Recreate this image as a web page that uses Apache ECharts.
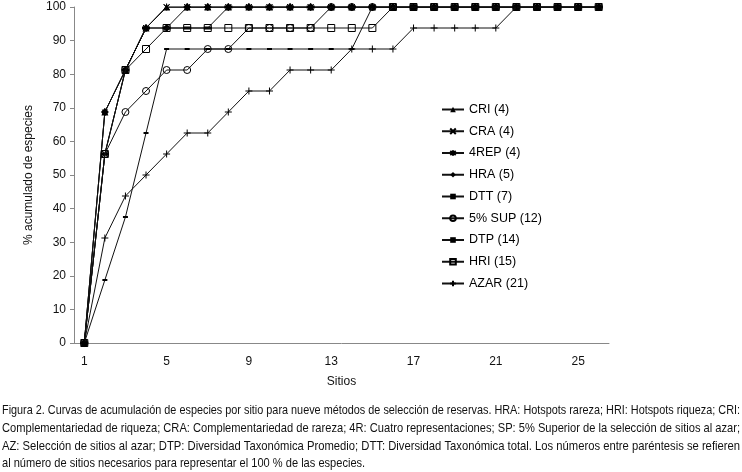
<!DOCTYPE html>
<html>
<head>
<meta charset="utf-8">
<script src="https://cdn.jsdelivr.net/npm/echarts@6/dist/echarts.min.js"></script>
<style>
html,body{margin:0;padding:0;background:#fff;}
#c{width:742px;height:472px;}
</style>
</head>
<body>
<div id="c"></div>
<script>
// ---- data ----
const sitios = ['1','2','3','4','5','6','7','8','9','10','11','12','13','14','15','16','17','18','19','20','21','22','23','24','25','26'];
const seriesNames = ['CRI (4)','CRA (4)','4REP (4)','HRA (5)','DTT (7)','5% SUP (12)','DTP (14)','HRI (15)','AZAR (21)'];
const CRI  = [0,68.75,81.25,93.75,100,100,100,100,100,100,100,100,100,100,100,100,100,100,100,100,100,100,100,100,100,100];
const CRA  = [0,56.25,81.25,93.75,100,100,100,100,100,100,100,100,100,100,100,100,100,100,100,100,100,100,100,100,100,100];
const REP4 = [0,68.75,81.25,93.75,100,100,100,100,100,100,100,100,100,100,100,100,100,100,100,100,100,100,100,100,100,100];
const HRA  = [0,68.75,81.25,93.75,93.75,100,100,100,100,100,100,100,100,100,100,100,100,100,100,100,100,100,100,100,100,100];
const DTT  = [0,56.25,81.25,93.75,93.75,93.75,93.75,100,100,100,100,100,100,100,100,100,100,100,100,100,100,100,100,100,100,100];
const SUP5 = [0,56.25,68.75,75,81.25,81.25,87.5,87.5,93.75,93.75,93.75,93.75,100,100,100,100,100,100,100,100,100,100,100,100,100,100];
const DTP  = [0,18.75,37.5,62.5,87.5,87.5,87.5,87.5,87.5,87.5,87.5,87.5,87.5,87.5,100,100,100,100,100,100,100,100,100,100,100,100];
const HRI  = [0,56.25,81.25,87.5,93.75,93.75,93.75,93.75,93.75,93.75,93.75,93.75,93.75,93.75,93.75,100,100,100,100,100,100,100,100,100,100,100];
const AZAR = [0,31.25,43.75,50,56.25,62.5,62.5,68.75,75,75,81.25,81.25,81.25,87.5,87.5,87.5,93.75,93.75,93.75,93.75,93.75,100,100,100,100,100];
const yTicks = [0,10,20,30,40,50,60,70,80,90,100];
const xTitle = 'Sitios';
const yTitle = '% acumulado de especies';
const captionLines = [
 'Figura 2. Curvas de acumulación de especies por sitio para nueve métodos de selección de reservas. HRA: Hotspots rareza; HRI: Hotspots riqueza; CRI:',
 'Complementariedad de riqueza; CRA: Complementariedad de rareza; 4R: Cuatro representaciones; SP: 5% Superior de la selección de sitios al azar;',
 'AZ: Selección de sitios al azar; DTP: Diversidad Taxonómica Promedio; DTT: Diversidad Taxonómica total. Los números entre paréntesis se refieren',
 'al número de sitios necesarios para representar el 100 % de las especies.'
];

// ---- styles ----
const F = '"Liberation Sans", Arial, sans-serif';
const CF = '"Liberation Sans Narrow", "Arial Narrow", "Liberation Sans", sans-serif';
const S = {
  cross: 'path://M0,0L10,10M10,0L0,10',
  star: 'path://M0,1L10,9M10,1L0,9M5,-1L5,11',
  plus: 'path://M5,0L5,10M0,5L10,5',
  dashBig: 'path://M0,0L8,0L8,3L0,3Z',
  dashSmall: 'path://M0,0L5,0L5,2L0,2Z'
};
const styles = [
  {symbol:'triangle', size:7, fill:'#000'},
  {symbol:S.cross, size:6, fill:'none'},
  {symbol:S.star, size:7, fill:'none'},
  {symbol:'diamond', size:8, fill:'#000'},
  {symbol:S.dashBig, size:8, fill:'#000'},
  {symbol:'circle', size:7, fill:'rgba(0,0,0,0)'},
  {symbol:S.dashSmall, size:5, fill:'#000'},
  {symbol:'rect', size:7, fill:'rgba(0,0,0,0)'},
  {symbol:S.plus, size:7, fill:'none'}
];
const dataSets = [CRI,CRA,REP4,HRA,DTT,SUP5,DTP,HRI,AZAR];

const series = dataSets.map((d,i)=>({
  name: seriesNames[i],
  type: 'line',
  data: d,
  symbol: styles[i].symbol,
  symbolSize: styles[i].size,
  symbolKeepAspect: true,
  showAllSymbol: true,
  z: 2 + i,
  lineStyle: {color:'#111', width:1},
  itemStyle: {color: styles[i].fill === 'none' ? 'rgba(0,0,0,0)' : styles[i].fill, borderColor:'#000', borderWidth: styles[i].fill==='#000'?0:1},
  emphasis: {disabled:true},
  animation: false
}));

// caption justified via horizontal scale
const ctx = document.createElement('canvas').getContext('2d');
const capSize = 13;
ctx.font = capSize + 'px ' + CF;
const capW = 738;
const ws = captionLines.map(t=>ctx.measureText(t).width);
const scales = ws.slice(0,3).map(w=>capW/w);
const avgScale = scales.reduce((a,b)=>a+b,0)/scales.length;
const capY = [412,430,448,465];
const graphic = captionLines.map((t,i)=>({
  type:'text', left: 2, top: capY[i]-8,
  scaleX: i<3 ? scales[i] : avgScale, originX: 0,
  style:{text:t, font: capSize+'px '+CF, fill:'#111'}
}));

const chart = echarts.init(document.getElementById('c'), null, {renderer:'canvas'});
chart.setOption({
  animation:false,
  backgroundColor:'#fff',
  grid:{left:74, top:7, width:535, height:336},
  legend:{
    orient:'vertical', left:436, top:98,
    itemWidth:22, itemHeight:7, itemGap:8.75,
    textStyle:{fontFamily:F, fontSize:12.5, color:'#000'},
    data: seriesNames
  },
  xAxis:{
    type:'category', data:sitios, boundaryGap:true,
    name:xTitle, nameLocation:'middle', nameGap:33,
    nameTextStyle:{fontFamily:F, fontSize:12, color:'#111'},
    axisLine:{lineStyle:{color:'#888'}},
    axisTick:{interval:0, length:4, lineStyle:{color:'#888'}},
    axisLabel:{interval:3, margin:13, fontFamily:F, fontSize:12, color:'#111'}
  },
  yAxis:{
    type:'value', min:yTicks[0], max:yTicks[yTicks.length-1], interval:10,
    name:yTitle, nameLocation:'middle', nameGap:36,
    nameTextStyle:{fontFamily:F, fontSize:12, color:'#111'},
    axisLine:{show:true, lineStyle:{color:'#888'}},
    axisTick:{show:true, length:4, lineStyle:{color:'#888'}},
    splitLine:{show:false},
    axisLabel:{margin:8, fontFamily:F, fontSize:12, color:'#111'}
  },
  graphic: graphic,
  series: series
});
</script>
</body>
</html>
